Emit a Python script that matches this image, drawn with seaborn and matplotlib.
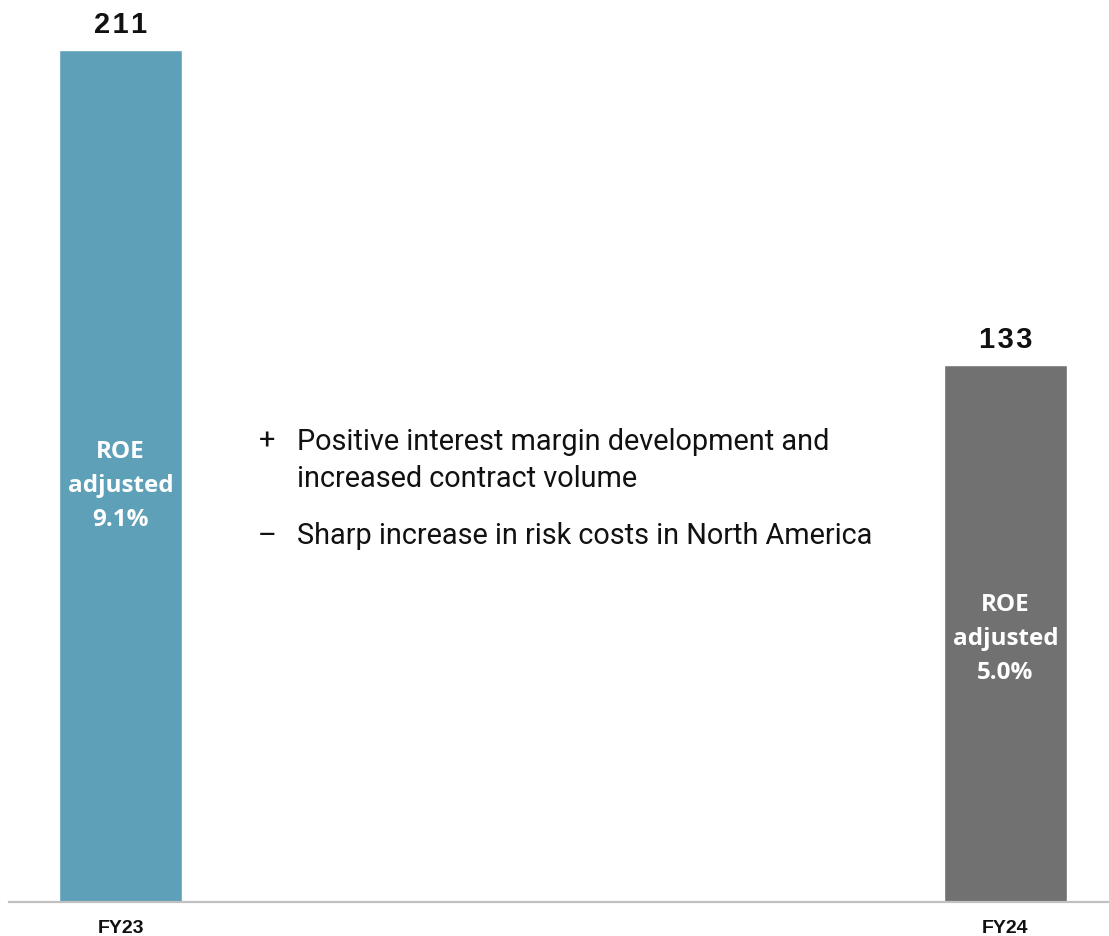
import matplotlib
matplotlib.use("Agg")
import matplotlib.pyplot as plt
from matplotlib import font_manager
import seaborn as sns
import pandas as pd

# Data
years = ["FY23", "FY24"]
ebit = [211, 133]
roe_labels = ["ROE\nadjusted\n9.1%", "ROE\nadjusted\n5.0%"]
bar_colors = ["#5fa0b9", "#717171"]
driver_signs = ["+", "\u2013"]
driver_lines = [
    ["Positive interest margin development and", "increased contract volume"],
    ["Sharp increase in risk costs in North America"],
]

sns.set_theme(style="white")
available = {f.name for f in font_manager.fontManager.ttflist}
narrow = "Liberation Sans Narrow" if "Liberation Sans Narrow" in available else "Roboto"
plt.rcParams["font.family"] = ["Liberation Sans", "DejaVu Sans"]

df = pd.DataFrame({"year": years, "value": ebit})

W, H = 1109, 937
fig = plt.figure(figsize=(W / 100, H / 100), dpi=100)
ax = fig.add_axes([9 / W, 34 / H, 1 - 9 / W, 903 / H])

sns.barplot(data=df, x="year", y="value", hue="year", palette=bar_colors,
            width=0.139, legend=False, ax=ax, saturation=1)

ax.set_xlim(-0.126, 1.117)
ax.set_ylim(0, 211 * 903 / 852)

for s in ["top", "right", "left"]:
    ax.spines[s].set_visible(False)
ax.spines["bottom"].set_color("#c0c0c0")
ax.spines["bottom"].set_linewidth(1.6)
ax.set_yticks([])
ax.set_xlabel("")
ax.set_ylabel("")
ax.tick_params(axis="x", length=0, pad=12)
for lab in ax.get_xticklabels():
    lab.set_fontsize(14)
    lab.set_fontweight("bold")
    lab.set_color("#111111")

# Value labels above the bars
for i, v in enumerate(ebit):
    ax.annotate("\u200a".join(f"{v}"), (i, v), xytext=(0, 13),
                textcoords="offset points", ha="center", va="baseline",
                fontsize=21, fontweight="bold", color="#111111")

# ROE labels inside the bars
roe_kw = dict(ha="center", va="center", color="white", fontsize=17.5,
              fontweight="bold", linespacing=1.58,
              family=["Open Sans", "DejaVu Sans"])
fig.text(120.5 / W, 1 - 486 / H, roe_labels[0], **roe_kw)
fig.text(1005.5 / W, 1 - 639 / H, roe_labels[1], **roe_kw)

# Driver commentary
sign_x = 267 / W
text_x = 297 / W
baselines = [[450, 487], [544]]
txt_kw = dict(fontsize=20.8, family=[narrow, "DejaVu Sans"], color="#111111",
              va="baseline")
for sign, lines, ys in zip(driver_signs, driver_lines, baselines):
    fig.text(sign_x, 1 - ys[0] / H, sign, ha="center", **txt_kw)
    for line, y in zip(lines, ys):
        fig.text(text_x, 1 - y / H, line, ha="left", **txt_kw)

fig.savefig("out.png", dpi=100, facecolor="white")
